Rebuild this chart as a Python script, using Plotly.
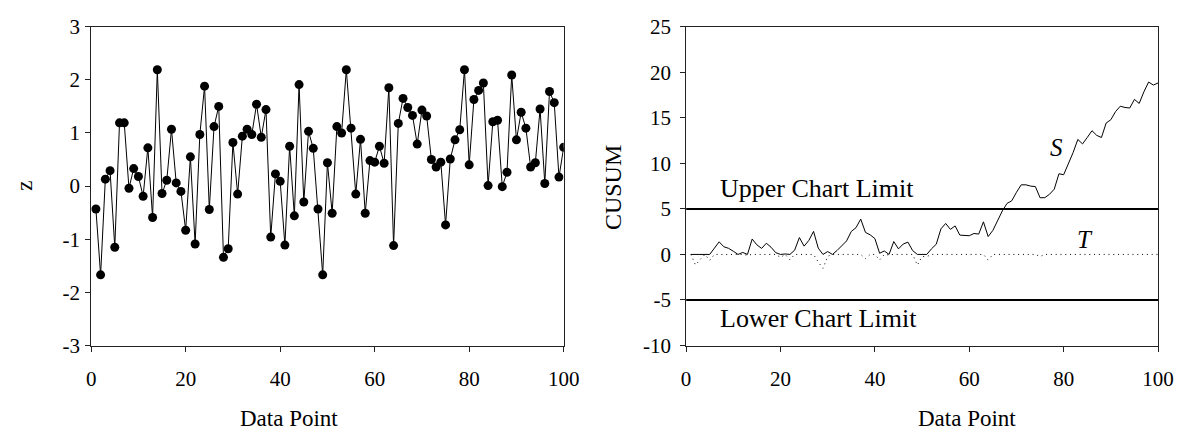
import plotly.graph_objects as go

# ---------------- data ----------------
points = list(range(1, 101))

z = [-0.43, -1.67, 0.13, 0.29, -1.15, 1.19, 1.19, -0.04, 0.33, 0.18,
     -0.19, 0.72, -0.59, 2.19, -0.14, 0.11, 1.07, 0.06, -0.10, -0.83,
     0.55, -1.09, 0.97, 1.88, -0.44, 1.12, 1.50, -1.34, -1.18, 0.82,
     -0.15, 0.94, 1.07, 0.97, 1.54, 0.92, 1.44, -0.96, 0.23, 0.09,
     -1.11, 0.75, -0.56, 1.91, -0.30, 1.03, 0.71, -0.43, -1.67, 0.44,
     -0.51, 1.12, 1.00, 2.19, 1.09, -0.15, 0.88, -0.51, 0.48, 0.45,
     0.75, 0.43, 1.85, -1.12, 1.18, 1.65, 1.48, 1.33, 0.79, 1.43,
     1.32, 0.50, 0.36, 0.45, -0.73, 0.51, 0.87, 1.06, 2.19, 0.40,
     1.63, 1.80, 1.94, 0.01, 1.21, 1.24, -0.01, 0.26, 2.09, 0.87,
     1.39, 1.09, 0.36, 0.44, 1.45, 0.05, 1.78, 1.57, 0.17, 0.73]

S = [0, 0, 0, 0, 0, 0.69, 1.38, 0.84, 0.67, 0.35,
     0, 0.22, 0, 1.69, 1.05, 0.66, 1.23, 0.79, 0.19, 0,
     0.05, 0, 0.47, 1.85, 0.91, 1.53, 2.53, 0.69, 0, 0.32,
     0, 0.44, 1.01, 1.48, 2.52, 2.94, 3.88, 2.42, 2.15, 1.74,
     0.13, 0.38, 0, 1.41, 0.61, 1.14, 1.35, 0.42, 0, 0,
     0, 0.62, 1.12, 2.81, 3.40, 2.75, 3.13, 2.12, 2.10, 2.05,
     2.30, 2.23, 3.58, 1.96, 2.64, 3.79, 4.77, 5.60, 5.89, 6.82,
     7.64, 7.64, 7.50, 7.45, 6.22, 6.23, 6.60, 7.16, 8.85, 8.75,
     9.88, 11.18, 12.62, 12.13, 12.84, 13.58, 13.07, 12.83, 14.42, 14.79,
     15.68, 16.27, 16.13, 16.07, 17.02, 16.57, 17.85, 18.92, 18.59, 18.82]

T = [0, -1.17, -0.54, 0, -0.65, 0, 0, 0, 0, 0,
     0, 0, -0.09, 0, 0, 0, 0, 0, 0, -0.33,
     0, -0.59, 0, 0, 0, 0, 0, -0.84, -1.52, -0.20,
     0, 0, 0, 0, 0, 0, 0, -0.46, 0, 0,
     -0.61, 0, -0.06, 0, 0, 0, 0, 0, -1.17, -0.23,
     -0.24, 0, 0, 0, 0, 0, 0, -0.01, 0, 0,
     0, 0, 0, -0.62, 0, 0, 0, 0, 0, 0,
     0, 0, 0, 0, -0.23, 0, 0, 0, 0, 0,
     0, 0, 0, 0, 0, 0, 0, 0, 0, 0,
     0, 0, 0, 0, 0, 0, 0, 0, 0, 0]

upper_limit = 5
lower_limit = -5
x_range = [0, 100]

x_ticks = [0, 20, 40, 60, 80, 100]
x_tick_labels = ["0", "20", "40", "60", "80", "100"]
z_ticks = [-3, -2, -1, 0, 1, 2, 3]
z_tick_labels = ["-3", "-2", "-1", "0", "1", "2", "3"]
cusum_ticks = [-10, -5, 0, 5, 10, 15, 20, 25]
cusum_tick_labels = ["-10", "-5", "0", "5", "10", "15", "20", "25"]

# ---------------- figure ----------------
W, H = 1194, 446
FONT = "Liberation Serif, Times New Roman, serif"

fig = go.Figure()

fig.add_trace(go.Scatter(
    x=points, y=z, mode="lines+markers", xaxis="x", yaxis="y",
    line=dict(color="black", width=1),
    marker=dict(color="black", size=9), showlegend=False))

fig.add_trace(go.Scatter(
    x=x_range, y=[upper_limit, upper_limit], mode="lines", xaxis="x2", yaxis="y2",
    line=dict(color="black", width=2), showlegend=False))
fig.add_trace(go.Scatter(
    x=x_range, y=[lower_limit, lower_limit], mode="lines", xaxis="x2", yaxis="y2",
    line=dict(color="black", width=2), showlegend=False))
fig.add_trace(go.Scatter(
    x=points, y=T, mode="lines", xaxis="x2", yaxis="y2",
    line=dict(color="black", width=1, dash="1px,3.8px"), showlegend=False))
fig.add_trace(go.Scatter(
    x=points, y=S, mode="lines", xaxis="x2", yaxis="y2",
    line=dict(color="black", width=1), showlegend=False))


def px_x(p):
    return p / W


def px_y(p):
    return 1 - p / H


ydom = [px_y(352.5), px_y(15.5)]
axis_common = dict(
    showline=True, linecolor="#222", linewidth=1, mirror=True,
    ticks="outside", ticklen=5, tickcolor="#222", tickwidth=1,
    showgrid=False, zeroline=False,
    tickfont=dict(family=FONT, size=21, color="black"),
)

fig.update_layout(
    width=W, height=H,
    margin=dict(l=0, r=0, t=0, b=0),
    paper_bgcolor="white", plot_bgcolor="white",
    font=dict(family=FONT, color="black"),
    xaxis=dict(domain=[px_x(87.7), px_x(568.7)], range=x_range,
               tickvals=x_ticks, ticktext=x_tick_labels,
               ticklabelstandoff=9, anchor="y", **axis_common),
    yaxis=dict(domain=ydom, range=[-3, 3],
               tickvals=z_ticks, ticktext=z_tick_labels,
               ticklabelstandoff=1, anchor="x", **axis_common),
    xaxis2=dict(domain=[px_x(693.3), px_x(1173.7)], range=x_range,
                tickvals=x_ticks, ticktext=x_tick_labels,
                ticklabelstandoff=9, anchor="y2", **axis_common),
    yaxis2=dict(domain=ydom, range=[-10, 25],
                tickvals=cusum_ticks, ticktext=cusum_tick_labels,
                ticklabelstandoff=5, anchor="x2", **axis_common),
)

ann = []
ann.append(dict(text="z", x=px_x(19), y=px_y(184), xref="paper", yref="paper",
                xanchor="center", yanchor="middle",
                textangle=-90, showarrow=False, font=dict(family=FONT, size=23)))
ann.append(dict(text="CUSUM", x=px_x(619), y=px_y(186), xref="paper", yref="paper",
                xanchor="center", yanchor="middle",
                textangle=-90, showarrow=False, font=dict(family=FONT, size=24)))
ann.append(dict(text="Data Point", x=px_x(289), y=px_y(430), xref="paper", yref="paper",
                xanchor="center", yanchor="middle",
                showarrow=False, font=dict(family=FONT, size=23)))
ann.append(dict(text="Data Point", x=px_x(979), y=px_y(430), xref="paper", yref="paper",
                xanchor="center", yanchor="middle",
                showarrow=False, font=dict(family=FONT, size=23)))
ann.append(dict(text="Upper Chart Limit", x=6.7, y=upper_limit, xref="x2", yref="y2",
                xanchor="left", yanchor="bottom", yshift=4, showarrow=False,
                font=dict(family=FONT, size=26)))
ann.append(dict(text="Lower Chart Limit", x=6.7, y=lower_limit, xref="x2", yref="y2",
                xanchor="left", yanchor="top", yshift=-2, showarrow=False,
                font=dict(family=FONT, size=26)))
ann.append(dict(text="<i>S</i>", x=78.5, y=11.7, xref="x2", yref="y2",
                showarrow=False, font=dict(family=FONT, size=25)))
ann.append(dict(text="<i>T</i>", x=84.5, y=1.65, xref="x2", yref="y2",
                showarrow=False, font=dict(family=FONT, size=25)))
fig.update_layout(annotations=ann)

fig.write_html("out.html")
